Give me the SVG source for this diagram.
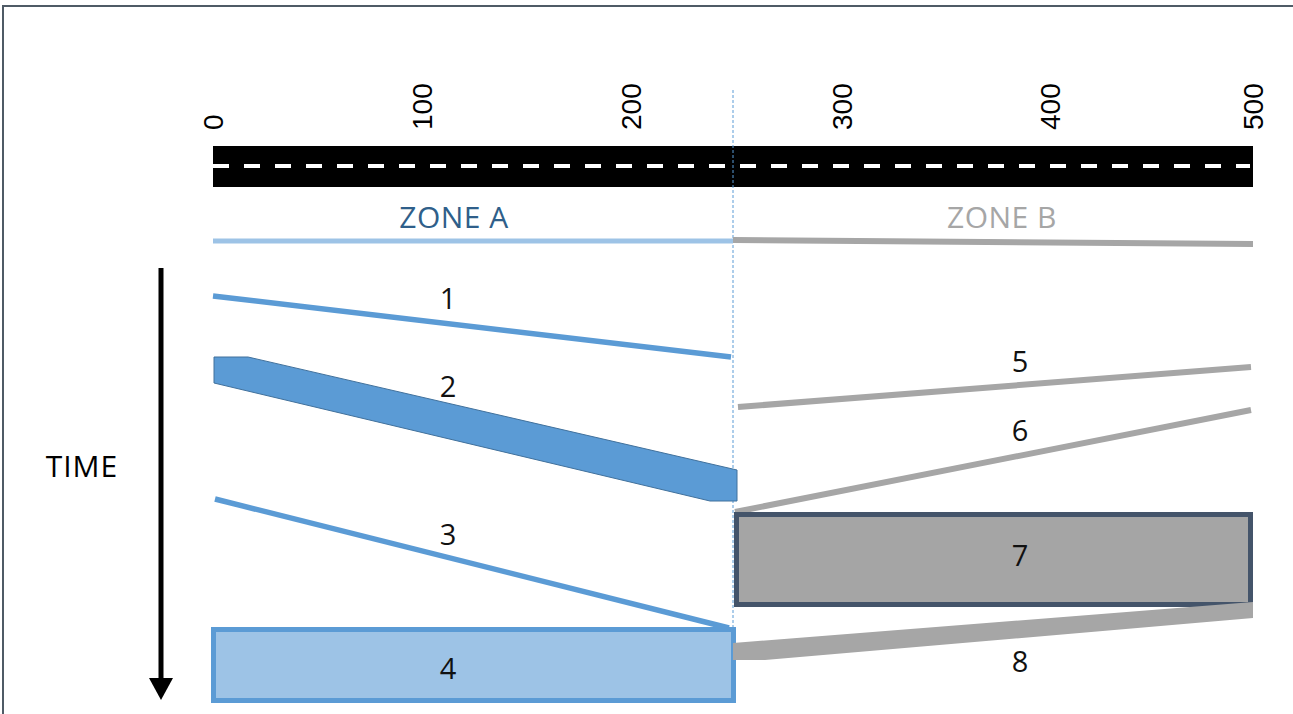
<svg xmlns="http://www.w3.org/2000/svg" width="1293" height="714" viewBox="0 0 1293 714">
  <style>
    .tick { font-family: "Liberation Sans", Arial, sans-serif; font-size: 28px; fill: #000; }
    .lbl { font-family: "Open Sans", "Noto Sans", sans-serif; font-size: 29px; fill: #111; text-anchor: middle; }
    .zone { font-family: "Open Sans", "Noto Sans", sans-serif; font-size: 30px; letter-spacing: 0.5px; text-anchor: middle; }
    .blue-line { stroke: #5b9bd5; stroke-width: 5.5; fill: none; }
    .grey-line { stroke: #a6a6a6; stroke-width: 6; fill: none; }
  </style>
  <defs>
    <marker id="arrowhead" markerWidth="22" markerHeight="24" refX="0" refY="12" orient="auto" markerUnits="userSpaceOnUse">
      <path d="M0,0 L22,12 L0,24 Z" fill="#000"/>
    </marker>
  </defs>

  <rect x="0" y="0" width="1293" height="714" fill="#fff"/>
  <!-- frame -->
  <path d="M3,714 L3,6 L1293,6" fill="none" stroke="#4f5b66" stroke-width="2"/>

  <!-- distance scale -->
  <g id="scale">
    <text class="tick" transform="translate(223,130) rotate(-90)">0</text>
    <text class="tick" transform="translate(432,130) rotate(-90)">100</text>
    <text class="tick" transform="translate(641,130) rotate(-90)">200</text>
    <text class="tick" transform="translate(852,130) rotate(-90)">300</text>
    <text class="tick" transform="translate(1060,130) rotate(-90)">400</text>
    <text class="tick" transform="translate(1263,130) rotate(-90)">500</text>
  </g>

  <!-- road -->
  <g id="road">
    <rect x="213" y="146" width="1040" height="41" fill="#000"/>
    <line x1="213" y1="166" x2="1250" y2="166" stroke="#fff" stroke-width="4" stroke-dasharray="16 15"/>
  </g>

  <!-- zone divider -->
  <line x1="733" y1="90" x2="733" y2="705" stroke="#5b9bd5" stroke-width="1" stroke-dasharray="3 2"/>

  <g id="zone-a">
    <text class="zone" x="454" y="228" fill="#2f5f8a">ZONE A</text>
    <line x1="213" y1="241" x2="733" y2="241" stroke="#9dc3e6" stroke-width="5"/>
  </g>
  <g id="zone-b">
    <text class="zone" x="1002" y="228" fill="#a6a6a6">ZONE B</text>
    <line x1="733" y1="240" x2="1253" y2="244" stroke="#a6a6a6" stroke-width="6"/>
  </g>

  <!-- time axis -->
  <g id="time-axis">
    <line x1="161" y1="268" x2="161" y2="678" stroke="#000" stroke-width="5" marker-end="url(#arrowhead)"/>
    <text class="lbl" x="82" y="477" style="font-size:30px; letter-spacing:1px; fill:#000">TIME</text>
  </g>

  <g id="connectors">
    <line id="c1" class="blue-line" x1="213" y1="296" x2="731" y2="357"/>
    <line id="c3" class="blue-line" x1="215" y1="499" x2="729" y2="628"/>
    <line id="c5" class="grey-line" x1="738" y1="407" x2="1251" y2="367"/>
    <line id="c6" class="grey-line" x1="735" y1="512" x2="1251" y2="410"/>
  </g>

  <g id="node-1"><text class="lbl" x="448" y="309">1</text></g>

  <g id="node-2">
    <polygon points="214,357 248,357 737,470 737,501 710,501 214,383" fill="#5b9bd5" stroke="#41719c" stroke-width="1"/>
    <text class="lbl" x="448" y="397">2</text>
  </g>

  <g id="node-3"><text class="lbl" x="448" y="545">3</text></g>

  <g id="node-4">
    <rect x="213.5" y="629.5" width="520" height="71" fill="#9dc3e6" stroke="#5b9bd5" stroke-width="5"/>
    <text class="lbl" x="448" y="679">4</text>
  </g>

  <g id="node-5"><text class="lbl" x="1020" y="372">5</text></g>
  <g id="node-6"><text class="lbl" x="1020" y="441">6</text></g>

  <g id="node-7">
    <rect x="736.5" y="514.5" width="514" height="90" fill="#a5a5a5" stroke="#44546a" stroke-width="5"/>
    <text class="lbl" x="1020" y="566">7</text>
  </g>

  <g id="node-8">
    <polygon points="733,643 1253,602 1253,618 765,660 733,660" fill="#a6a6a6"/>
    <text class="lbl" x="1020" y="672">8</text>
  </g>
</svg>
